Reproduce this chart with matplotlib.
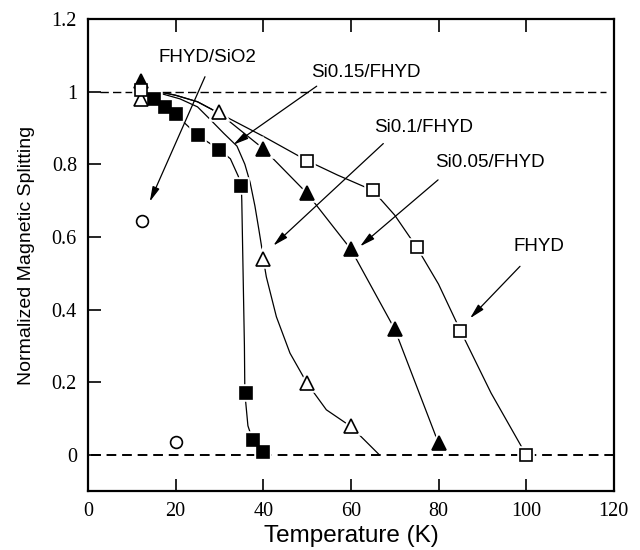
import numpy as np
import matplotlib
matplotlib.use("Agg")
import matplotlib.pyplot as plt

# measured points (markers)
sq_fill_x = [15, 17.5, 20, 25, 30, 35, 36, 37.6, 40]
sq_fill_y = [0.98, 0.958, 0.937, 0.88, 0.84, 0.741, 0.17, 0.04, 0.007]

tri_open_x = [12, 30, 40, 50, 60]
tri_open_y = [0.98, 0.944, 0.54, 0.197, 0.078]

tri_fill_x = [12, 40, 50, 60, 70, 80]
tri_fill_y = [1.03, 0.843, 0.72, 0.566, 0.346, 0.032]

sq_open_x = [12, 50, 65, 75, 85, 100]
sq_open_y = [1.005, 0.81, 0.728, 0.572, 0.342, 0.0]

circ_x = [12.4, 20]
circ_y = [0.643, 0.034]

# guide curves
c015_x = [12, 15, 18, 20, 25, 30, 32.5, 34.3, 35, 35.1, 35.4, 35.7, 35.8, 36.5, 37.6, 40]
c015_y = [1.0, 0.98, 0.958, 0.937, 0.88, 0.84, 0.815, 0.767, 0.74, 0.7, 0.5, 0.3, 0.17, 0.08, 0.04, 0.005]

c01_x = [12, 16, 21, 25, 28, 31, 34, 35.8, 37, 38.1, 39, 39.6, 40, 40.7, 43, 46.1, 50, 54.4, 60, 66.5]
c01_y = [1.0, 0.997, 0.98, 0.958, 0.922, 0.885, 0.85, 0.80, 0.75, 0.685, 0.62, 0.575, 0.54, 0.49, 0.38, 0.28, 0.197, 0.124, 0.078, 0.0]

c005_x = [12, 16, 20, 25, 30, 40, 50, 60, 70, 80]
c005_y = [1.0, 1.0, 0.99, 0.972, 0.94, 0.843, 0.72, 0.566, 0.346, 0.032]

cfhyd_x = [12, 16, 20, 25, 30, 40, 50, 57, 65, 70, 75, 80, 85, 92, 100]
cfhyd_y = [1.0, 1.0, 0.99, 0.972, 0.94, 0.877, 0.81, 0.77, 0.728, 0.66, 0.572, 0.47, 0.342, 0.17, 0.0]

plt.rcParams['font.family'] = ['Liberation Sans', 'DejaVu Sans']

fig = plt.figure(figsize=(6.4, 5.5), dpi=100)
ax = fig.add_axes([0.1375, 0.107, 0.8215, 0.8585])

# dashed reference lines
ax.axhline(1.0, xmin=0.022, xmax=0.985, color='black', ls=(0, (6, 3)), lw=1.0, zorder=1)
ax.axhline(0.0, xmin=0.005, xmax=0.998, color='black', ls=(0, (5, 3)), lw=1.4, zorder=1)

for cx, cy in [(c015_x, c015_y), (c01_x, c01_y), (c005_x, c005_y), (cfhyd_x, cfhyd_y)]:
    ax.plot(cx, cy, color='black', lw=0.9, zorder=2)

series = [
    (sq_fill_x, sq_fill_y, 's', 'black', 8.5),
    (tri_open_x, tri_open_y, '^', 'white', 10),
    (tri_fill_x, tri_fill_y, '^', 'black', 10),
    (sq_open_x, sq_open_y, 's', 'white', 8),
    (circ_x, circ_y, 'o', 'white', 8.5),
]
# white halo so the lines break around the markers
for x, y, m, fc, ms in series:
    ax.plot(x, y, ls='none', marker=m, ms=ms, mfc='white', mec='white', mew=4, zorder=3)
for x, y, m, fc, ms in series:
    ax.plot(x, y, ls='none', marker=m, ms=ms, mfc=fc, mec='black', mew=1.2, zorder=4)

# labels with arrows
arrow = dict(arrowstyle='-|>,head_length=0.9,head_width=0.22', color='black', lw=0.9,
             shrinkA=0, shrinkB=0)
labels = [
    ("FHYD/SiO2", (27.2, 1.094), (26.7, 1.041), (14.1, 0.697)),
    ("Si0.15/FHYD", (63.4, 1.052), (52.2, 1.015), (33.2, 0.854)),
    ("Si0.1/FHYD", (76.7, 0.900), (67.4, 0.857), (42.3, 0.576)),
    ("Si0.05/FHYD", (91.7, 0.804), (79.9, 0.757), (62.1, 0.574)),
    ("FHYD", (102.9, 0.574), (98.6, 0.519), (87.2, 0.376)),
]
for txt, tpos, a0, a1 in labels:
    ax.text(tpos[0], tpos[1], txt, ha='center', va='center', fontsize=13.5)
    ax.annotate('', xy=a1, xytext=a0, arrowprops=arrow, zorder=5)

ax.set_xlim(0, 120)
ax.set_ylim(-0.1, 1.2)
ax.set_xticks([0, 20, 40, 60, 80, 100, 120])
ax.set_yticks([0, 0.2, 0.4, 0.6, 0.8, 1.0, 1.2])
ax.set_xticklabels(['0', '20', '40', '60', '80', '100', '120'], family='Liberation Serif', fontsize=14.5)
ax.set_yticklabels(['0', '0.2', '0.4', '0.6', '0.8', '1', '1.2'], family='Liberation Serif', fontsize=14.5)
ax.tick_params(direction='in', length=9, width=1.2, right=False, pad=8)
ax.tick_params(axis='x', top=True)
for s in ax.spines.values():
    s.set_linewidth(1.6)

ax.set_xlabel("Temperature (K)", fontsize=17.5, labelpad=3)
ax.set_ylabel("Normalized Magnetic Splitting", fontsize=14, labelpad=12)

fig.savefig("out.png", dpi=100)
